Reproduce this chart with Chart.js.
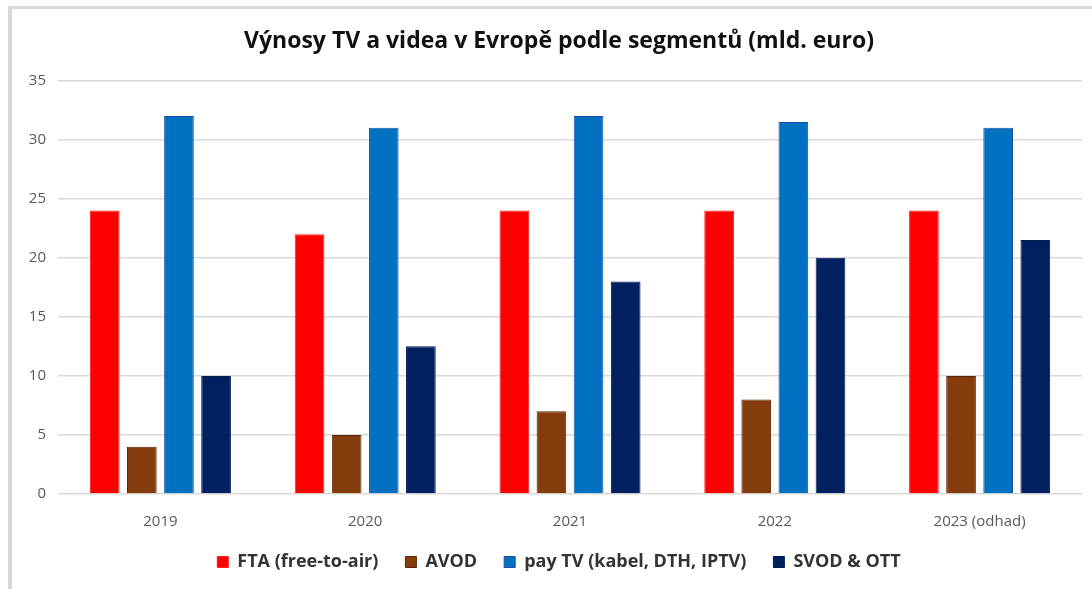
<!DOCTYPE html>
<html>
<head>
<meta charset="utf-8">
<script src="https://cdn.jsdelivr.net/npm/chart.js@4"></script>
<style>
  html, body { margin: 0; padding: 0; background: #fff; }
  #frame {
    position: absolute; left: 8px; top: 6px; right: 0; bottom: 0;
    border-top: 3px solid #d9d9d9; border-left: 4px solid #d9d9d9;
  }
  #wrap { position: absolute; left: 0; top: 0; width: 1092px; height: 589px; }
</style>
</head>
<body>
<div id="frame"></div>
<div id="wrap"><canvas id="chart"></canvas></div>
<script>
const years = ['2019', '2020', '2021', '2022', '2023 (odhad)'];
const seriesNames = ['FTA (free-to-air)', 'AVOD', 'pay TV (kabel, DTH, IPTV)', 'SVOD & OTT'];
const ftaValues = [24, 22, 24, 24, 24];
const avodValues = [4, 5, 7, 8, 10];
const payTvValues = [32, 31, 32, 31.5, 31];
const svodValues = [10, 12.5, 18, 20, 21.5];
const fillColors = ['#ff0000', '#843c0c', '#0070c0', '#002060'];
const edgeColors = ['#ff2020', '#5a2506', '#1f4e9f', '#001a50'];

const FONT = '"Open Sans", Lato, sans-serif';

function makeDataset(i, values) {
    return {
        label: seriesNames[i],
        data: values,
        backgroundColor: fillColors[i],
        borderColor: edgeColors[i],
        borderWidth: 1,
        categoryPercentage: 0.725,
        barPercentage: 0.8
    };
}

const config = {
    type: 'bar',
    data: {
        labels: years,
        datasets: [
            makeDataset(0, ftaValues),
            makeDataset(1, avodValues),
            makeDataset(2, payTvValues),
            makeDataset(3, svodValues)
        ]
    },
    options: {
        responsive: false,
        animation: false,
        layout: { padding: { left: 36, right: 10, top: 0, bottom: 8 } },
        plugins: {
            title: {
                display: true,
                text: 'Výnosy TV a videa v Evropě podle segmentů (mld. euro)',
                color: '#111111',
                font: { family: FONT, size: 23, weight: 'bold' },
                padding: { top: 28, bottom: 25 }
            },
            legend: {
                position: 'bottom',
                labels: {
                    color: '#333333',
                    font: { family: FONT, size: 18, weight: 'bold' },
                    boxWidth: 11,
                    boxHeight: 11,
                    padding: 27
                }
            },
            tooltip: { enabled: false }
        },
        scales: {
            x: {
                grid: { display: false, drawTicks: false },
                border: { display: false },
                ticks: { color: '#595959', font: { family: FONT, size: 15 }, padding: 19 },
                afterFit: function(scale) {
                    scale.height = 32;
                    scale._computeLabelArea = function() {};
                }
            },
            y: {
                min: 0,
                max: 35,
                ticks: { stepSize: 5, color: '#595959', font: { family: FONT, size: 15 }, padding: 12 },
                grid: { color: '#d9d9d9', lineWidth: 1.5, drawTicks: false },
                border: { display: false },
                afterFit: function(scale) {
                    // narrow box so the title centres on the plot; labels may spill left
                    scale.width = 22;
                    scale._computeLabelArea = function() {};
                }
            }
        }
    }
};

const canvas = document.getElementById('chart');
canvas.width = 1092;
canvas.height = 589;
new Chart(canvas, config);
</script>
</body>
</html>
